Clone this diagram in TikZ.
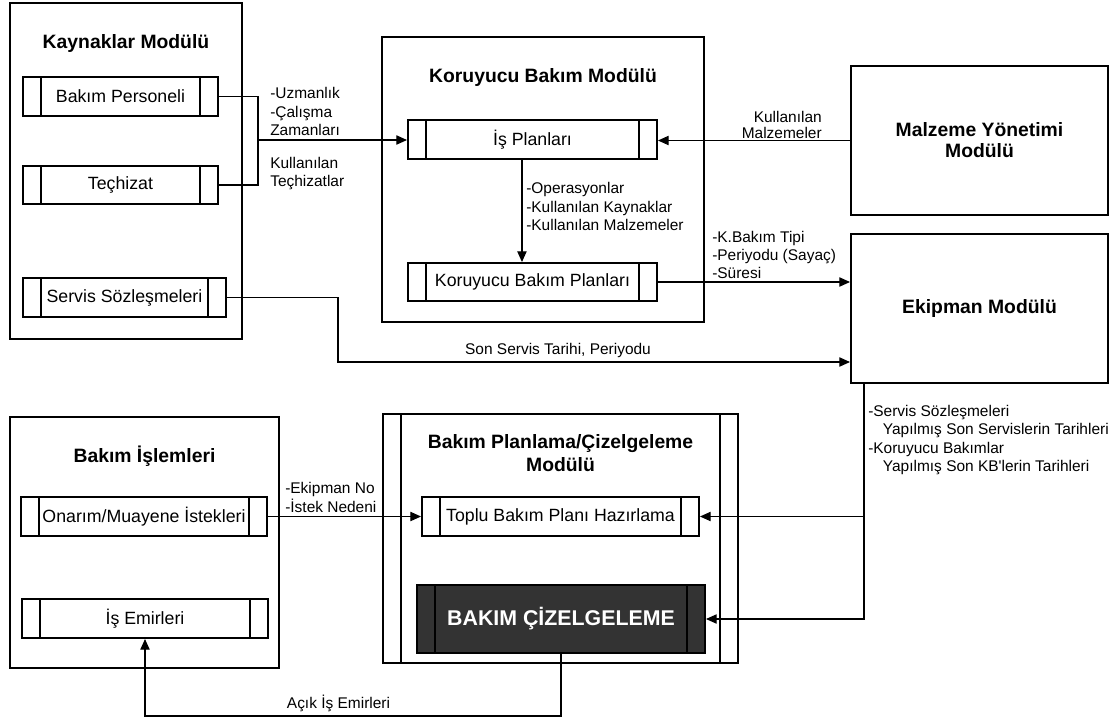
\documentclass[tikz,border=0pt]{standalone}
\usepackage{fontspec}
\setmainfont{Liberation Sans}
\usetikzlibrary{arrows.meta}
\definecolor{darkbox}{RGB}{51,51,51}
\begin{document}
\begin{tikzpicture}[x=0.75pt,y=-0.75pt,
  frame/.style={draw, line width=1.5pt, inner sep=0pt},
  procbox/.style={draw, line width=1.5pt, inner sep=0pt,
    font=\fontsize{13.3}{16}\selectfont,
    path picture={
      \draw[line width=1.5pt]
        ([xshift=13.8pt]path picture bounding box.north west) --
        ([xshift=13.8pt]path picture bounding box.south west);
      \draw[line width=1.5pt]
        ([xshift=-13.8pt]path picture bounding box.north east) --
        ([xshift=-13.8pt]path picture bounding box.south east);}},
  title/.style={font=\fontsize{14.5}{17}\bfseries\selectfont, align=center},
  lbl/.style={font=\fontsize{11.6}{13.7}\selectfont, align=left, inner sep=0pt},
  conn/.style={line width=0.8pt},
  arr/.style={conn, -{Triangle[length=8pt,width=7pt]}},
]
\useasboundingbox (0,0) rectangle (1120,718);

% Kaynaklar module
\node[frame, minimum width=174pt, minimum height=252pt] (kay) at (126,171) {};
\node[title] (kayT) at (126,43) {Kaynaklar Modülü};
\node[procbox, minimum width=146.25pt, minimum height=29.25pt] (bp) at (120.5,96.5) {Bakım Personeli};
\node[procbox, minimum width=146.25pt, minimum height=28.5pt] (tec) at (120.5,185) {Teçhizat};
\node[procbox, minimum width=152.25pt, minimum height=29.25pt] (srv) at (124.5,297.5) {Servis Sözleşmeleri};

% Koruyucu bakim module
\node[frame, minimum width=241.5pt, minimum height=213.75pt] (kor) at (543,179.5) {};
\node[title] (korT) at (543,77) {Koruyucu Bakım Modülü};
\node[procbox, minimum width=186.75pt, minimum height=29.25pt] (isp) at (532.5,139.5) {İş Planları};
\node[procbox, minimum width=186.75pt, minimum height=28.5pt] (kbp) at (532.5,282) {Koruyucu Bakım Planları};

% Malzeme and Ekipman modules
\node[frame, title, font=\fontsize{14.5}{15.75}\bfseries\selectfont,
      minimum width=192.75pt, minimum height=111.75pt] (mal) at (979.5,140.5) {Malzeme Yönetimi\\Modülü};
\node[frame, title, minimum width=192.75pt, minimum height=111.75pt] (ekp) at (979.5,308.5) {Ekipman Modülü};

% Bakim islemleri
\node[frame, minimum width=201.75pt, minimum height=188.25pt] (bis) at (144.5,542.5) {};
\node[title] (bisT) at (144.5,456) {Bakım İşlemleri};
\node[procbox, minimum width=184.5pt, minimum height=29.25pt] (ona) at (144,516.5) {Onarım/Muayene İstekleri};
\node[procbox, minimum width=184.5pt, minimum height=29.25pt] (ise) at (145,618.5) {İş Emirleri};

% Planlama / cizelgeleme module
\node[procbox, minimum width=266.25pt, minimum height=186.75pt] (bpl) at (560.5,538.5) {};
\node[title, font=\fontsize{14.5}{17.25}\bfseries\selectfont] (bplT) at (560.5,453.5)
  {Bakım Planlama/Çizelgeleme\\Modülü};
\node[procbox, minimum width=207.75pt, minimum height=29.25pt] (top) at (560.5,516.5) {Toplu Bakım Planı Hazırlama};
\node[procbox, fill=darkbox, text=white, font=\fontsize{16}{19}\bfseries\selectfont,
      minimum width=216pt, minimum height=51pt] (ciz) at (561,619) {BAKIM ÇİZELGELEME};

% connectors
\coordinate (j1) at (258,140);
\draw[conn] (bp.east) -| (j1);
\draw[conn] (tec.east) -| (j1);
\draw[arr] (j1) -- (j1 -| isp.west);
\draw[arr] (mal.west) -- (mal.west -| isp.east);
\draw[arr] ([xshift=-7.9pt]isp.south) -- ([xshift=-7.9pt]kbp.north);
\draw[arr] (kbp.east) -- (kbp.east -| ekp.west);
\coordinate (s1) at (338,362);
\draw[arr] (srv.east) -| (s1) -- (s1 -| ekp.west);
\draw[arr] (ona.east) -- (ona.east -| top.west);
\coordinate (e1) at ([xshift=10.5pt]ekp.south west);
\coordinate (e2) at (e1 |- top.east);
\draw[arr] (e1) |- (ciz.east);
\draw[arr] (e2) -- (top.east);
\coordinate (b1) at (561,716);
\draw[arr] (ciz.south) -- (ciz.south |- b1) -| (ise.south);

% connector labels
\node[lbl, anchor=west] (l1) at (270,111.5) {-Uzmanlık\\-Çalışma\\Zamanları};
\node[lbl, anchor=west] (l2) at (270,173.5) {Kullanılan\\Teçhizatlar};
\node[lbl, anchor=east, align=right, font=\fontsize{11.6}{12}\selectfont] (l3)
  at (822,125) {Kullanılan\\Malzemeler};
\node[lbl, anchor=west] (l4) at (526,206.5)
  {-Operasyonlar\\-Kullanılan Kaynaklar\\-Kullanılan Malzemeler};
\node[lbl, anchor=west] (l5) at (712,255) {-K.Bakım Tipi\\-Periyodu (Sayaç)\\-Süresi};
\node[lbl] (l6) at (558,350) {Son Servis Tarihi, Periyodu};
\node[lbl, anchor=west] (l7) at (285,497.5) {-Ekipman No\\-İstek Nedeni};
\node[lbl, anchor=west] (l8) at (868,440)
  {-Servis Sözleşmeleri\\\hspace*{11pt}Yapılmış Son Servislerin Tarihleri\\
   -Koruyucu Bakımlar\\\hspace*{11pt}Yapılmış Son KB\textquotesingle lerin Tarihleri};
\node[lbl] (l9) at (338.5,703) {Açık İş Emirleri};
\end{tikzpicture}
\end{document}
